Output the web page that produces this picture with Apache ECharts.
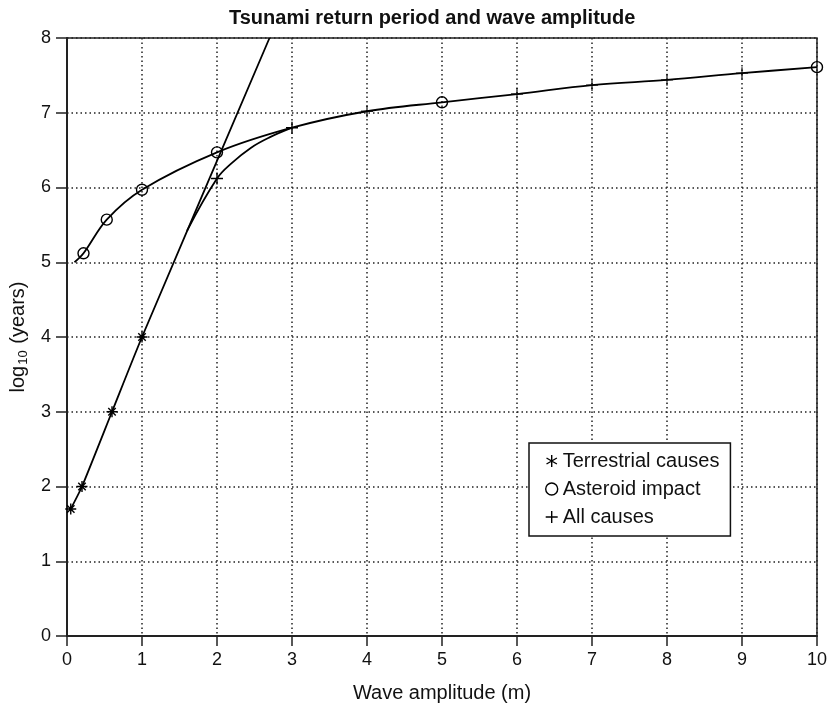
<!DOCTYPE html>
<html><head><meta charset="utf-8">
<script src="https://cdn.jsdelivr.net/npm/echarts@6/dist/echarts.min.js"></script>
<style>html,body{margin:0;padding:0;background:#fff}#c{width:830px;height:708px}</style>
</head><body><div id="c"></div>
<script>
// ---- data ----
const xTickMin = 0, xTickMax = 10, xTickStep = 1;
const yTickMin = 0, yTickMax = 8, yTickStep = 1;

// Terrestrial causes (marked points) and where its fitted line leaves the plot top
const terrX = [0.05, 0.2, 0.6, 1.0];
const terrY = [1.7, 2.0, 3.0, 4.0];
const terrLineX = [2.7];
const terrLineY = [8.0];

// Asteroid impact (marked points) and unmarked points
const astX = [0.22, 0.53, 1.0, 2.0, 5.0, 10.0];
const astY = [5.12, 5.57, 5.97, 6.47, 7.14, 7.61];
const astCurveX = [0.1, 3.0, 4.0, 6.0, 7.0, 8.0, 9.0];
const astCurveY = [5.0, 6.80, 7.02, 7.25, 7.37, 7.44, 7.53];

// All causes: marked points and unmarked points traced along the bend
const allX = [2.0, 3.0];
const allY = [6.12, 6.80];
const allCurveX = [1.6, 2.2, 2.45, 2.7];
const allCurveY = [5.42, 6.33, 6.53, 6.67];
const allOnlyX = [4.0, 6.0, 7.0, 8.0, 9.0];   // '+' marks lying on the asteroid curve
const allOnlyY = [7.02, 7.25, 7.37, 7.44, 7.53];

const names = ['Terrestrial causes', 'Asteroid impact', 'All causes'];

// ---- helpers ----
function merge(mx, my, cx, cy) {
  const pts = [];
  mx.forEach((x, i) => pts.push({ value: [x, my[i]] }));
  cx.forEach((x, i) => pts.push({ value: [x, cy[i]], symbol: 'none' }));
  pts.sort((a, b) => a.value[0] - b.value[0]);
  return pts;
}
const STAR = 'path://M5,0L5,10M0,5L10,5M1.6,1.6L8.4,8.4M1.6,8.4L8.4,1.6';
const STAR6 = 'path://M5,0L5,10M0.67,2.5L9.33,7.5M0.67,7.5L9.33,2.5';
const PLUS = 'path://M5,0L5,10M0,5L10,5';
const FONT = '"Liberation Sans", Arial, Helvetica, sans-serif';
const markStyle = { color: 'rgba(0,0,0,0)', borderColor: '#000', borderWidth: 1.4 };
const lineStyle = { color: '#000', width: 1.8 };

const chart = echarts.init(document.getElementById('c'), null, { renderer: 'canvas' });
chart.setOption({
  backgroundColor: '#fff',
  animation: false,
  textStyle: { fontFamily: FONT },
  title: {
    text: 'Tsunami return period and wave amplitude',
    left: 229, top: 8, padding: 0,
    textStyle: { fontSize: 20, fontWeight: 'bold', color: '#111', fontFamily: FONT }
  },
  grid: { left: 67, right: 12, top: 38, bottom: 70, show: true, borderColor: '#222', borderWidth: 1.5, backgroundColor: 'transparent' },
  legend: {
    orient: 'vertical', left: 529, top: 443,
    padding: [8, 11, 9, 16],
    itemWidth: 12, itemHeight: 12, itemGap: 8,
    borderColor: '#111', borderWidth: 1.5, backgroundColor: '#fff',
    textStyle: { fontSize: 20, color: '#111', fontFamily: FONT },
    data: [
      { name: names[0], icon: STAR6, itemStyle: markStyle },
      { name: names[1], icon: 'circle', itemStyle: markStyle },
      { name: names[2], icon: PLUS, itemStyle: markStyle }
    ]
  },
  xAxis: {
    type: 'value', min: xTickMin, max: xTickMax, interval: xTickStep,
    name: 'Wave amplitude (m)', nameLocation: 'middle', nameGap: 47,
    nameTextStyle: { fontSize: 20, color: '#111', fontFamily: FONT },
    axisLine: { lineStyle: { color: '#222', width: 2 } },
    axisTick: { show: true, inside: false, length: 10, lineStyle: { color: '#222', width: 1.5 } },
    axisLabel: { fontSize: 18, color: '#111', margin: 15, fontFamily: FONT },
    splitLine: { show: true, lineStyle: { color: '#222', width: 1.5, type: [1.5, 3] } }
  },
  yAxis: {
    type: 'value', min: yTickMin, max: yTickMax, interval: yTickStep,
    name: 'log{s|10} (years)', nameLocation: 'middle', nameGap: 36,
    nameTextStyle: { fontSize: 20, color: '#111', fontFamily: FONT,
      rich: { s: { fontSize: 13, color: '#111', fontFamily: FONT, verticalAlign: 'bottom', padding: [10, 1, 0, 1] } } },
    axisLine: { show: true, lineStyle: { color: '#222', width: 2 } },
    axisTick: { show: true, inside: false, length: 11, lineStyle: { color: '#222', width: 1.5 } },
    axisLabel: { fontSize: 18, color: '#111', margin: 16, fontFamily: FONT },
    splitLine: { show: true, lineStyle: { color: '#222', width: 1.5, type: [1.5, 3] } }
  },
  series: [
    {
      name: names[0], type: 'line', smooth: 0.2, clip: true,
      symbol: STAR, symbolSize: 11, itemStyle: markStyle, lineStyle: lineStyle,
      data: merge(terrX, terrY, terrLineX, terrLineY), z: 3
    },
    {
      name: names[1], type: 'line', smooth: 0.35, clip: true,
      symbol: 'circle', symbolSize: 11, itemStyle: markStyle, lineStyle: lineStyle,
      data: merge(astX, astY, astCurveX, astCurveY), z: 3
    },
    {
      name: names[2], type: 'line', smooth: 0.4, clip: true,
      symbol: PLUS, symbolSize: 12, itemStyle: markStyle, lineStyle: lineStyle,
      data: merge(allX, allY, allCurveX, allCurveY), z: 3
    },
    {
      name: names[2], type: 'scatter',
      symbol: PLUS, symbolSize: 12, itemStyle: markStyle,
      data: allOnlyX.map((x, i) => [x, allOnlyY[i]]), z: 4
    }
  ]
});
</script>
</body></html>
